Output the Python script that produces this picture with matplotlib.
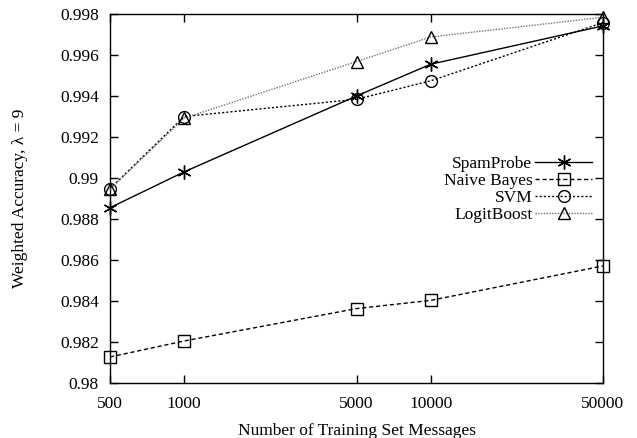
import matplotlib
matplotlib.use("Agg")
import matplotlib.pyplot as plt
from matplotlib.ticker import FixedLocator, FixedFormatter, NullLocator

# ===============================
# DATA
# ===============================

train_sizes = [500, 1000, 5000, 10000, 50000]

spamprobe = [0.98855, 0.99030, 0.99400, 0.99555, 0.99742]
naive_bayes = [0.98127, 0.98205, 0.98363, 0.98403, 0.98571]
svm = [0.98948, 0.99300, 0.99384, 0.99474, 0.99758]
logitboost = [0.98945, 0.99292, 0.99568, 0.99688, 0.99784]

series_names = ["SpamProbe", "Naive Bayes", "SVM", "LogitBoost"]

x_ticks = [500, 1000, 5000, 10000, 50000]
x_tick_labels = ["500", "1000", "5000", "10000", "50000"]
y_ticks = [0.98, 0.982, 0.984, 0.986, 0.988, 0.99, 0.992, 0.994, 0.996, 0.998]
y_tick_labels = ["0.98", "0.982", "0.984", "0.986", "0.988", "0.99",
                 "0.992", "0.994", "0.996", "0.998"]

# ===============================
# STYLE
# ===============================

plt.rcParams["font.family"] = ["Liberation Serif", "DejaVu Serif"]
plt.rcParams["font.size"] = 12.5

fig = plt.figure(figsize=(6.37, 4.38), dpi=100)
ax = fig.add_axes([110 / 637, 1 - 383 / 438, 493 / 637, 369 / 438])

ax.plot(train_sizes, spamprobe, color="black", lw=1.0, linestyle="-",
        marker=(6, 2, 0), markersize=10, markeredgewidth=1.0,
        label=series_names[0], clip_on=False, zorder=4)
ax.plot(train_sizes, naive_bayes, color="black", lw=1.0, linestyle=(0, (3, 2)),
        marker="s", markersize=8.5, markerfacecolor="none", markeredgecolor="black",
        markeredgewidth=1.0, label=series_names[1], clip_on=False, zorder=4)
ax.plot(train_sizes, svm, color="black", lw=1.0, linestyle=(0, (1.5, 1.5)),
        marker="o", markersize=8.5, markerfacecolor="none", markeredgecolor="black",
        markeredgewidth=1.0, label=series_names[2], clip_on=False, zorder=4)
ax.plot(train_sizes, logitboost, color="0.45", lw=1.0, linestyle=(0, (1, 1)),
        marker="^", markersize=8.5, markerfacecolor="none", markeredgecolor="black",
        markeredgewidth=1.0, label=series_names[3], clip_on=False, zorder=4)

ax.set_xscale("log")
ax.set_xlim(500, 50000)
ax.set_ylim(0.98, 0.998)

ax.xaxis.set_major_locator(FixedLocator(x_ticks))
ax.xaxis.set_major_formatter(FixedFormatter(x_tick_labels))
ax.xaxis.set_minor_locator(NullLocator())
ax.yaxis.set_major_locator(FixedLocator(y_ticks))
ax.yaxis.set_major_formatter(FixedFormatter(y_tick_labels))

ax.tick_params(direction="in", length=6, width=1.0, top=True, right=True,
               labelsize=12.5)
ax.tick_params(axis="x", pad=9)
ax.tick_params(axis="y", pad=8)
for side in ax.spines.values():
    side.set_linewidth(1.0)

ax.set_xlabel("Number of Training Set Messages", fontsize=12.5, labelpad=8)
ax.set_ylabel("Weighted Accuracy, \u03bb = 9", fontsize=12.5, labelpad=23)

leg = ax.legend(loc="center right", bbox_to_anchor=(0.978, 0.524),
                markerfirst=False, frameon=False, borderpad=0, borderaxespad=0,
                handlelength=3.3, handletextpad=0.15, labelspacing=0.05,
                fontsize=12.5)

fig.savefig("out.png", dpi=100)
